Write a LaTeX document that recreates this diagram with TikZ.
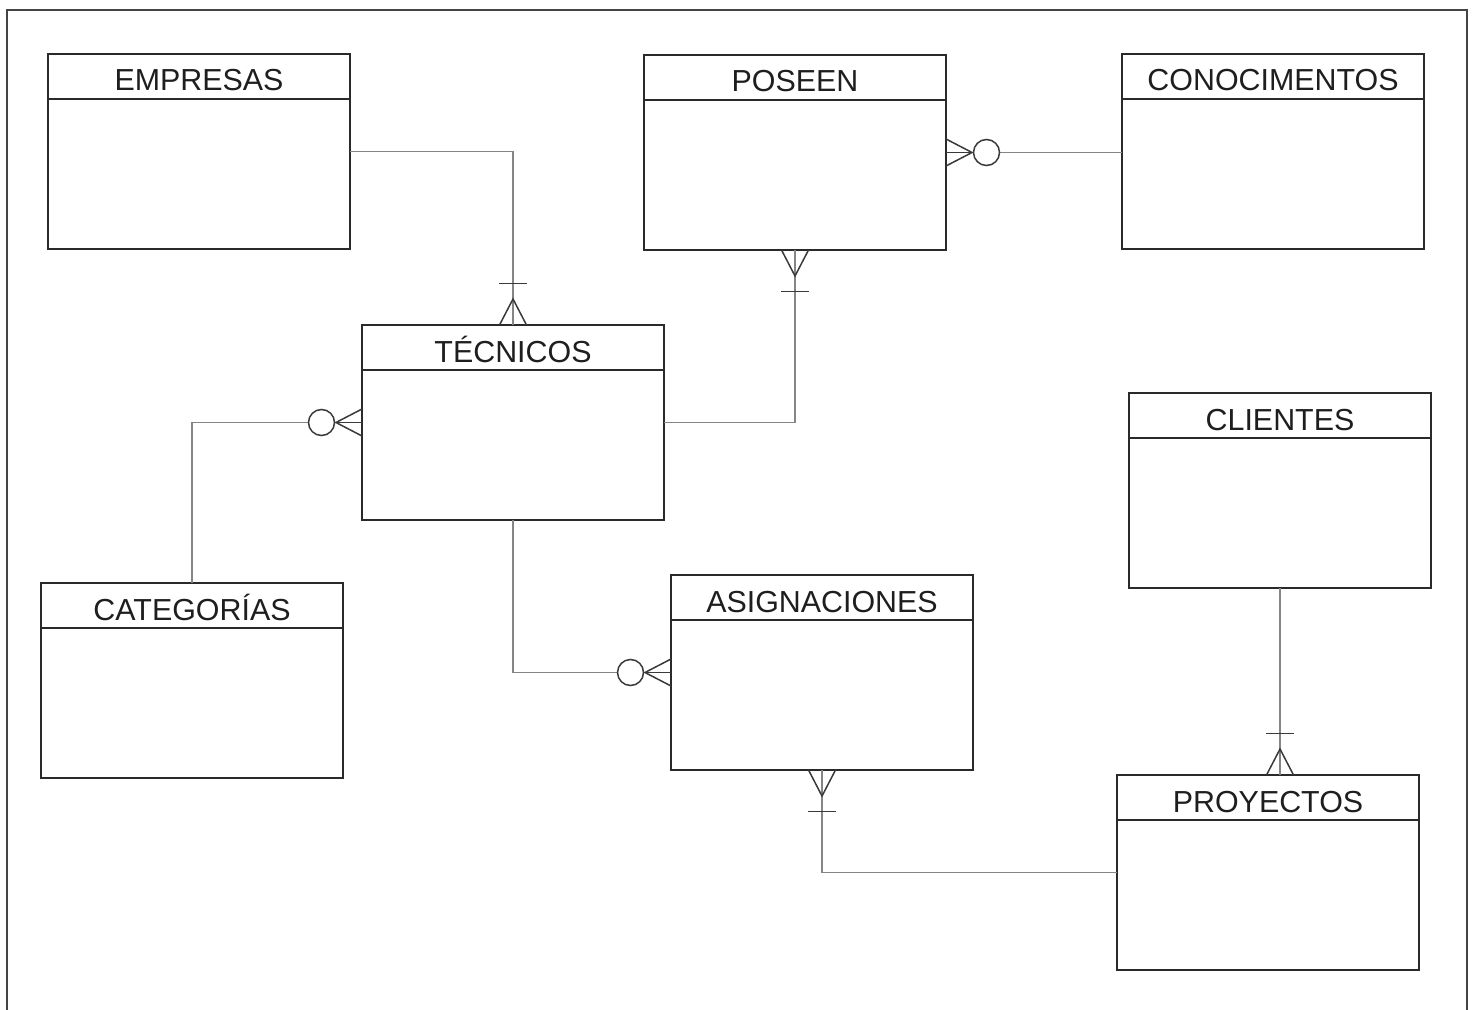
\documentclass[tikz,border=0pt]{standalone}
\usepackage{fontspec}
\setmainfont{Liberation Sans}
\definecolor{boxc}{HTML}{2A2A2A}
\definecolor{txt}{HTML}{1E1E1E}
\definecolor{linec}{HTML}{858585}
\definecolor{markc}{HTML}{3A3A3A}
\definecolor{framec}{HTML}{444444}
\tikzset{
  entity/.style={draw=boxc, line width=0.8pt, minimum width=151pt, minimum height=97.5pt,
    anchor=north west, inner sep=0pt, outer sep=0pt},
  headline/.style={draw=boxc, line width=0.8pt},
  title/.style={anchor=base, font=\fontsize{15.2}{18}\selectfont, text=txt, inner sep=0pt},
  conn/.style={draw=linec, line width=0.8pt},
  cfmark/.style={draw=markc, line width=0.75pt},
  frame/.style={draw=framec, line width=1pt},
  % crow's foot with a bar: one or many
  onemany/.pic={
    \draw[cfmark] (0,6.75pt) -- (13pt,0) -- (0,-6.75pt);
    \draw[cfmark] (20.75pt,7pt) -- (20.75pt,-7pt);
  },
  % crow's foot with a circle: zero or many
  zeromany/.pic={
    \draw[cfmark] (0,6.75pt) -- (13pt,0) -- (0,-6.75pt);
    \draw[cfmark] (0,0) -- (13pt,0);
    \draw[cfmark, fill=white] (20.25pt,0) circle[radius=6.5pt];
  }
}
\newcommand\entity[4]{%
  \node[entity] (#1) at (#2) {};
  \draw[headline] ([yshift=-22.5pt]#1.north west) -- ([yshift=-22.5pt]#1.north east);
  \node[title] (#1-t) at ([yshift=-18.5pt]#1.north) {#3#4};
}
\begin{document}
\begin{tikzpicture}[x=0.5pt,y=-0.5pt]
\useasboundingbox (0,0) rectangle (1475,1010);
\draw[frame] (7,1012) -- (7,10) -- (1467,10) -- (1467,1012);

% entities
\entity{empresas}{48,54}{EMPRESAS}{}
\entity{poseen}{644,55}{POSEEN}{}
\entity{conocimentos}{1122,54}{CONOCIMENTOS}{}
\entity{tecnicos}{362,325}{TÉCNICOS}{}
\entity{clientes}{1129,393}{CLIENTES}{}
\entity{categorias}{41,583}{CATEGORÍAS}{}
\entity{asignaciones}{671,575}{ASIGNACIONES}{}
\entity{proyectos}{1117,775}{PROYECTOS}{}

% relationships
\draw[conn] (empresas.east) -| (tecnicos.north);
\draw[conn] (poseen.east) -- (conocimentos.west |- poseen.east);
\draw[conn] (tecnicos.east) -| (poseen.south);
\draw[conn] (categorias.north) |- (tecnicos.west);
\draw[conn] (tecnicos.south) |- (asignaciones.west);
\draw[conn] (proyectos.west) -| (asignaciones.south);
\coordinate (pt) at (clientes.south |- proyectos.north);
\draw[conn] (clientes.south) -- (pt);

% cardinality ends
\pic[rotate=90] at (tecnicos.north) {onemany};
\pic at (poseen.east) {zeromany};
\pic[rotate=-90] at (poseen.south) {onemany};
\pic[rotate=180] at (tecnicos.west) {zeromany};
\pic[rotate=180] at (asignaciones.west) {zeromany};
\pic[rotate=-90] at (asignaciones.south) {onemany};
\pic[rotate=90] at (pt) {onemany};
\end{tikzpicture}
\end{document}
